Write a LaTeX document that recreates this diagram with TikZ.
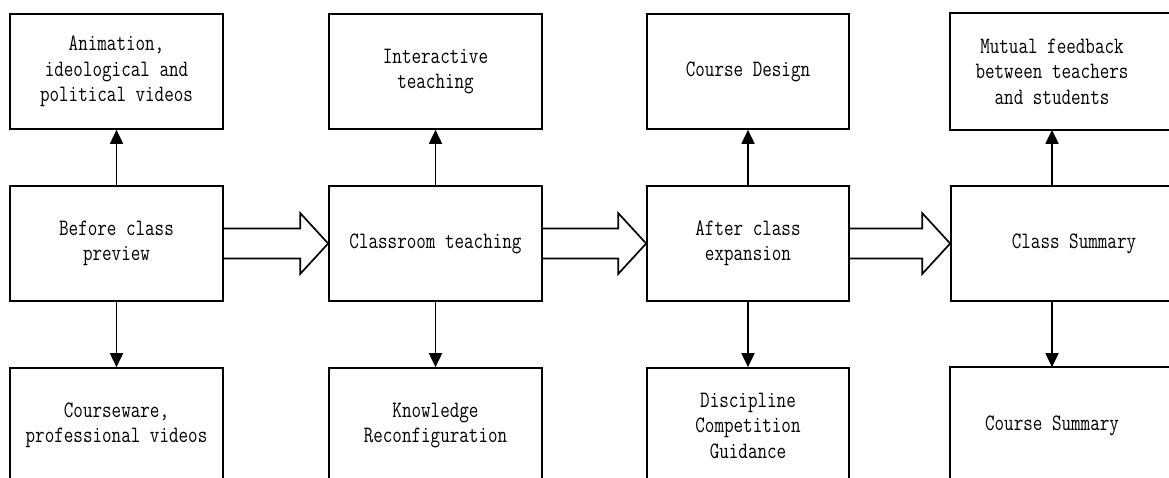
\documentclass[tikz,border=0pt]{standalone}
\usepackage{fontspec}
\newfontfamily\boxfont{Latin Modern Mono}[FakeStretch=0.79]
\usetikzlibrary{arrows.meta}
\tikzset{
  box/.style={draw=black, line width=1.7pt, rectangle, minimum height=115pt,
    align=center, inner sep=0pt, font=\boxfont\fontsize{23.5}{25.5}\selectfont},
  w1/.style={minimum width=213pt},
  w3/.style={minimum width=202pt},
  ghost/.style={draw=none},
  edge/.style={line width=1.7pt},
  vert/.style={line width=1.8pt, -{Triangle[width=13pt,length=14pt]}},
  hollow/.style={line width=1.7pt, line join=miter}
}
\begin{document}
\begin{tikzpicture}[x=1pt,y=-1pt]
\useasboundingbox (0,0) rectangle (1169,477);
\clip (0,0) rectangle (1169,477);
\fill[white] (0,0) rectangle (1169,477);
% column 1
\node[box,w1] (a1) at (116.5,71.5) {Animation,\\ideological and\\political videos};
\node[box,w1] (a2) at (116.5,243.5) {Before class\\preview};
\node[box,w1] (a3) at (116.5,425.5) {Courseware,\\professional videos};
% column 2
\node[box,w1] (b1) at (435.5,71.5) {Interactive\\teaching};
\node[box,w1] (b2) at (435.5,243.5) {Classroom teaching};
\node[box,w1] (b3) at (435.5,425.5) {Knowledge\\Reconfiguration};
% column 3
\node[box,w3] (c1) at (748,71.5) {Course Design};
\node[box,w3] (c2) at (748,243.5) {After class\\expansion};
\node[box,w3] (c3) at (748,425.5) {Discipline\\Competition\\Guidance};
% column 4
\node[box,w3,ghost] (d1) at (1052,71.5) {Mutual feedback\\between teachers\\and students};
\node[box,minimum width=246pt] (d2) at (1074,243.5) {Class Summary};
\node[box,w3,ghost] (d3) at (1052,425.5) {Course Summary};
\draw[edge] ([xshift=60pt]d1.south east) -- (d1.south west) -- (d1.north west) -- ([xshift=60pt]d1.north east);
\draw[edge] ([xshift=60pt]d3.south east) -- (d3.south west) -- (d3.north west) -- ([xshift=60pt]d3.north east);
% vertical arrows
\foreach \c in {a,b,c,d} {
  \draw[vert] (\c2.north -| \c1.south) -- (\c1.south);
  \draw[vert] (\c2.south -| \c3.north) -- (\c3.north);
}
% hollow block arrows
\foreach \s/\t in {a2/b2,b2/c2,c2/d2} {
  \draw[hollow] ([yshift=15pt]\s.east) -- ([xshift=-28pt,yshift=15pt]\t.west)
    -- ([xshift=-28pt,yshift=30.5pt]\t.west) -- (\t.west)
    -- ([xshift=-28pt,yshift=-30.5pt]\t.west) -- ([xshift=-28pt,yshift=-15pt]\t.west)
    -- ([yshift=-15pt]\s.east);
}
\end{tikzpicture}
\end{document}
